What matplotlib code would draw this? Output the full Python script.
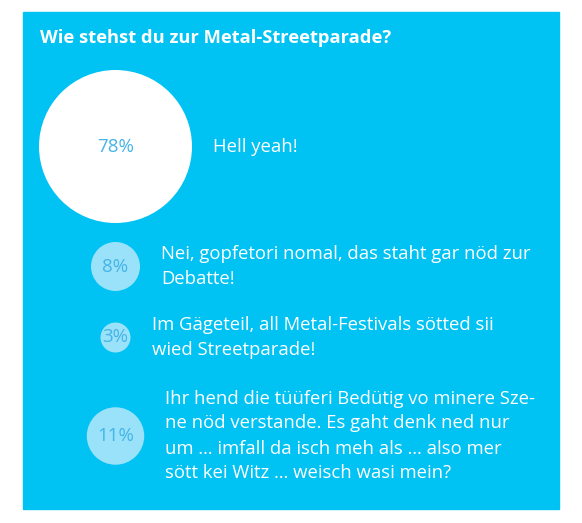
import numpy as np
import matplotlib
matplotlib.use("Agg")
import matplotlib.pyplot as plt
from matplotlib.patches import Circle, Rectangle

# Data
title = "Wie stehst du zur Metal-Streetparade?"
answers = [
    "Hell yeah!",
    "Nei, gopfetori nomal, das staht gar nöd zur\nDebatte!",
    "Im Gägeteil, all Metal-Festivals sötted sii\nwied Streetparade!",
    "Ihr hend die tüüferi Bedütig vo minere Sze-\nne nöd verstande. Es gaht denk ned nur\num … imfall da isch meh als … also mer\nsött kei Witz … weisch wasi mein?",
]
percent = [78, 8, 3, 11]

# Colours
bg = "#00c2f3"
big_fill = "white"
small_fill = "#9ae2f9"
pct_color = "#45b4e6"

plt.rcParams['font.family'] = ['Open Sans', 'DejaVu Sans']

W, H = 582, 523
fig = plt.figure(figsize=(W / 100, H / 100), dpi=100)
ax = fig.add_axes([0, 0, 1, 1])
ax.set_xlim(0, W)
ax.set_ylim(H, 0)
ax.set_aspect('equal')
ax.axis('off')

# card background
ax.add_patch(Rectangle((23, 12), 536, 497, color=bg, zorder=0))
ax.text(40, 43, title, color="white", fontsize=13.2, fontweight="bold",
        va="baseline", ha="left")

# bubble sizes: area proportional to share
r_max = 76.5
radii = [r_max * np.sqrt(p / max(percent)) for p in percent]
cx = 115.5
line_h = 27.5
gap = 16
y = 70
for i, (lab, p, r) in enumerate(zip(answers, percent, radii)):
    nlines = lab.count("\n") + 1
    row_h = max(2 * r, nlines * line_h)
    cy = y + row_h / 2
    fill = big_fill if i == 0 else small_fill
    ax.add_patch(Circle((cx, cy), r, color=fill, zorder=1, lw=0))
    ax.text(cx, cy, f"{p}%", color=pct_color, fontsize=13.5,
            ha="center", va="center", zorder=2)
    ax.text(cx + r + 21, cy, lab, color="white", fontsize=13.3,
            ha="left", va="center", linespacing=1.5, zorder=2)
    y += row_h + gap

fig.savefig("out.png", dpi=100, facecolor="white")
